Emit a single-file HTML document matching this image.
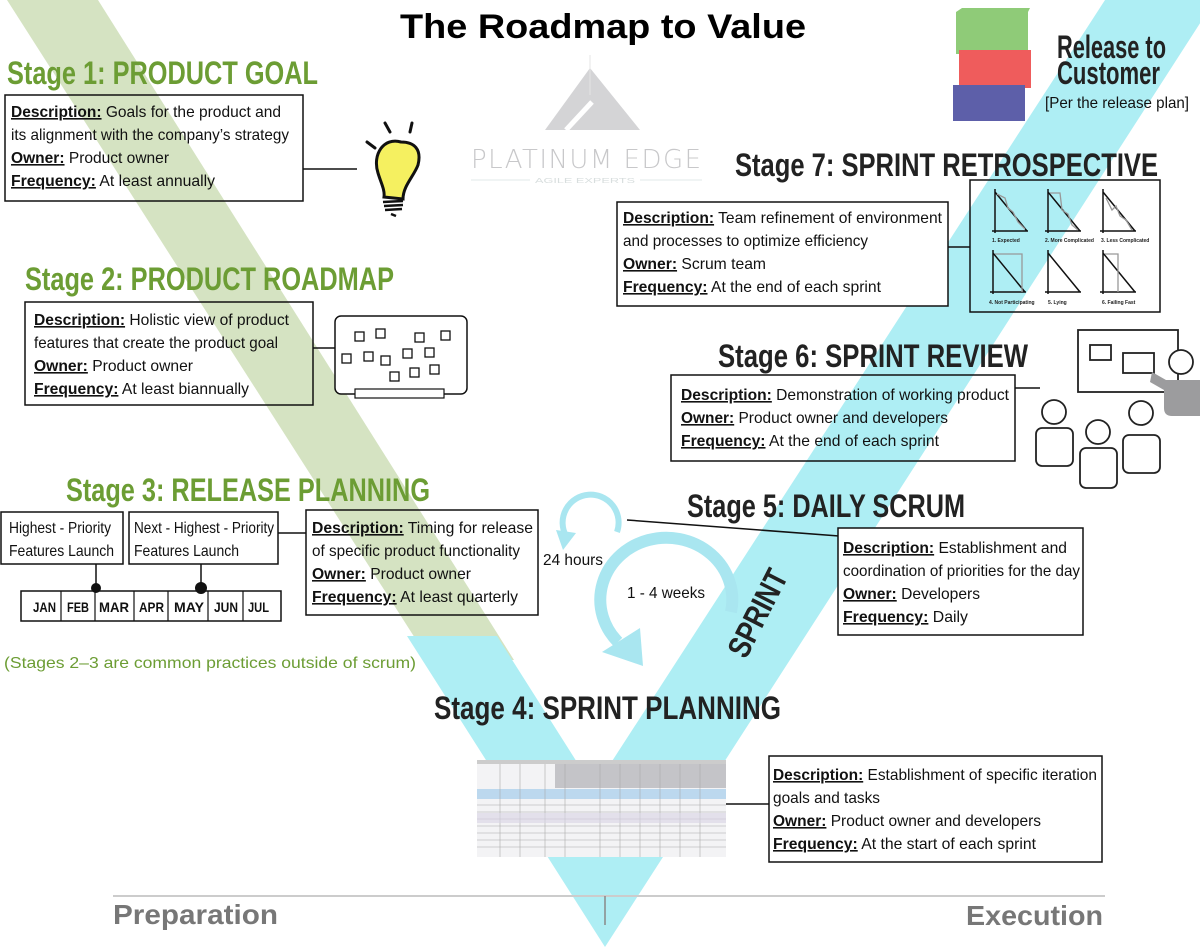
<!DOCTYPE html>
<html><head><meta charset="utf-8"><style>
html,body{margin:0;padding:0;background:#fff;}
svg{display:block;}
.b{font-family:"Liberation Sans",sans-serif;font-size:16px;fill:#111;}
.h{font-family:"Liberation Sans",sans-serif;font-weight:bold;font-size:32px;}
.u{font-weight:bold;text-decoration:underline;}
</style></head><body>
<svg width="1200" height="948" viewBox="0 0 1200 948" xmlns="http://www.w3.org/2000/svg">
<!-- V bands -->
<polygon points="7,0 98,0 514,660 429,660" fill="#d5e3c2"/>
<polygon points="407,636 497,636 594,789 1105,0 1215,0 605,947" fill="#aeeef4"/>

<!-- title -->
<text x="603" y="38" text-anchor="middle" font-family="Liberation Sans,sans-serif" font-weight="bold" font-size="34" textLength="406" lengthAdjust="spacingAndGlyphs" fill="#000">The Roadmap to Value</text>

<!-- logo -->
<polygon points="590,68 640,130 545,130" fill="#d4d4d6"/>
<line x1="566" y1="130" x2="592" y2="102" stroke="#fff" stroke-width="5"/>
<line x1="590" y1="55" x2="590" y2="95" stroke="#e4e4e4" stroke-width="1"/>
<text x="471" y="168" font-family="DejaVu Sans,sans-serif" font-weight="200" font-size="26" fill="#c8c8ca" textLength="230" lengthAdjust="spacing">PLATINUM EDGE</text>
<line x1="471" y1="180" x2="530" y2="180" stroke="#e2eaea"/><line x1="640" y1="180" x2="702" y2="180" stroke="#e2eaea"/>
<text x="535" y="183" font-family="Liberation Sans,sans-serif" font-size="7" fill="#d8dede" textLength="100" lengthAdjust="spacingAndGlyphs">AGILE EXPERTS</text>

<!-- Stage 1 -->
<text class="h" x="7" y="84" fill="#6c9d34" textLength="311" lengthAdjust="spacingAndGlyphs">Stage 1: PRODUCT GOAL</text>
<rect x="5" y="95" width="298" height="106" fill="none" stroke="#111" stroke-width="1.5"/>
<text class="b" x="11" y="117" textLength="270" lengthAdjust="spacingAndGlyphs"><tspan class="u">Description:</tspan> Goals for the product and</text>
<text class="b" x="11" y="140" textLength="278" lengthAdjust="spacingAndGlyphs">its alignment with the company’s strategy</text>
<text class="b" x="11" y="163" textLength="158" lengthAdjust="spacingAndGlyphs"><tspan class="u">Owner:</tspan> Product owner</text>
<text class="b" x="11" y="186" textLength="204" lengthAdjust="spacingAndGlyphs"><tspan class="u">Frequency:</tspan> At least annually</text>
<line x1="303" y1="169" x2="357" y2="169" stroke="#111" stroke-width="1.5"/>
<!-- bulb -->
<g stroke="#111" stroke-width="3" stroke-linecap="round">
<line x1="385" y1="123" x2="390" y2="132"/><line x1="412" y1="123" x2="410" y2="132"/><line x1="367" y1="142" x2="375" y2="148"/>
</g>
<path d="M401,142 C384,137 372,154 378,173 C381,183 385,190 384,197 L403,199 C403,186 414,176 418,165 C422,149 414,142 401,142 Z" fill="#f5f060" stroke="#111" stroke-width="3"/>
<g stroke="#111" stroke-width="2.5"><line x1="383" y1="202" x2="403" y2="201"/><line x1="384" y1="206" x2="403" y2="205"/><line x1="385" y1="210" x2="402" y2="209"/><line x1="391" y1="214" x2="396" y2="216"/></g>

<!-- Stage 2 -->
<text class="h" x="25" y="290" fill="#6c9d34" textLength="369" lengthAdjust="spacingAndGlyphs">Stage 2: PRODUCT ROADMAP</text>
<rect x="25" y="302" width="288" height="103" fill="none" stroke="#111" stroke-width="1.5"/>
<text class="b" x="34" y="325" textLength="255" lengthAdjust="spacingAndGlyphs"><tspan class="u">Description:</tspan> Holistic view of product</text>
<text class="b" x="34" y="348" textLength="244" lengthAdjust="spacingAndGlyphs">features that create the product goal</text>
<text class="b" x="34" y="371" textLength="159" lengthAdjust="spacingAndGlyphs"><tspan class="u">Owner:</tspan> Product owner</text>
<text class="b" x="34" y="394" textLength="215" lengthAdjust="spacingAndGlyphs"><tspan class="u">Frequency:</tspan> At least biannually</text>
<line x1="313" y1="348" x2="335" y2="348" stroke="#111" stroke-width="1.5"/>
<rect x="335" y="316" width="132" height="78" rx="6" fill="#fff" stroke="#111" stroke-width="1.5"/>
<rect x="355" y="389" width="89" height="9" fill="#fff" stroke="#111" stroke-width="1.2"/>
<g fill="none" stroke="#111" stroke-width="1.3">
<rect x="355" y="332" width="9" height="9"/><rect x="376" y="329" width="9" height="9"/><rect x="415" y="333" width="9" height="9"/><rect x="441" y="331" width="9" height="9"/>
<rect x="342" y="354" width="9" height="9"/><rect x="364" y="352" width="9" height="9"/><rect x="381" y="356" width="9" height="9"/><rect x="403" y="349" width="9" height="9"/><rect x="425" y="348" width="9" height="9"/>
<rect x="390" y="372" width="9" height="9"/><rect x="410" y="368" width="9" height="9"/><rect x="430" y="365" width="9" height="9"/>
</g>

<!-- Stage 3 -->
<text class="h" x="66" y="501" fill="#6c9d34" textLength="364" lengthAdjust="spacingAndGlyphs">Stage 3: RELEASE PLANNING</text>
<rect x="1" y="512" width="122" height="52" fill="#fff" stroke="#111" stroke-width="1.5"/>
<rect x="129" y="512" width="149" height="52" fill="#fff" stroke="#111" stroke-width="1.5"/>
<text class="b" x="9" y="533" textLength="102" lengthAdjust="spacingAndGlyphs">Highest - Priority</text>
<text class="b" x="9" y="556" textLength="105" lengthAdjust="spacingAndGlyphs">Features Launch</text>
<text class="b" x="134" y="533" textLength="140" lengthAdjust="spacingAndGlyphs">Next - Highest - Priority</text>
<text class="b" x="134" y="556" textLength="105" lengthAdjust="spacingAndGlyphs">Features Launch</text>
<line x1="96" y1="564" x2="96" y2="587" stroke="#111" stroke-width="1.5"/>
<line x1="201" y1="564" x2="201" y2="587" stroke="#111" stroke-width="1.5"/>
<rect x="21" y="591" width="260" height="30" fill="#fff" stroke="#111" stroke-width="1.5"/>
<g stroke="#111" stroke-width="1.2"><line x1="61" y1="591" x2="61" y2="621"/><line x1="95" y1="591" x2="95" y2="621"/><line x1="134" y1="591" x2="134" y2="621"/><line x1="168" y1="591" x2="168" y2="621"/><line x1="208" y1="591" x2="208" y2="621"/><line x1="243" y1="591" x2="243" y2="621"/></g>
<circle cx="96" cy="588" r="5" fill="#111"/><circle cx="201" cy="588" r="6" fill="#111"/>
<g font-family="Liberation Sans,sans-serif" font-weight="bold" font-size="14" fill="#111">
<text x="33" y="612" textLength="23" lengthAdjust="spacingAndGlyphs">JAN</text>
<text x="67" y="612" textLength="22" lengthAdjust="spacingAndGlyphs">FEB</text>
<text x="99" y="612" textLength="30" lengthAdjust="spacingAndGlyphs">MAR</text>
<text x="139" y="612" textLength="25" lengthAdjust="spacingAndGlyphs">APR</text>
<text x="174" y="612" textLength="30" lengthAdjust="spacingAndGlyphs">MAY</text>
<text x="214" y="612" textLength="24" lengthAdjust="spacingAndGlyphs">JUN</text>
<text x="248" y="612" textLength="21" lengthAdjust="spacingAndGlyphs">JUL</text>
</g>
<line x1="278" y1="533" x2="306" y2="533" stroke="#111" stroke-width="1.5"/>
<rect x="306" y="510" width="232" height="105" fill="none" stroke="#111" stroke-width="1.5"/>
<text class="b" x="312" y="533" textLength="221" lengthAdjust="spacingAndGlyphs"><tspan class="u">Description:</tspan> Timing for release</text>
<text class="b" x="312" y="556" textLength="208" lengthAdjust="spacingAndGlyphs">of specific product functionality</text>
<text class="b" x="312" y="579" textLength="159" lengthAdjust="spacingAndGlyphs"><tspan class="u">Owner:</tspan> Product owner</text>
<text class="b" x="312" y="602" textLength="206" lengthAdjust="spacingAndGlyphs"><tspan class="u">Frequency:</tspan> At least quarterly</text>
<text x="4" y="668" font-family="Liberation Sans,sans-serif" font-size="16" fill="#6c9d34" textLength="412" lengthAdjust="spacingAndGlyphs">(Stages 2–3 are common practices outside of scrum)</text>

<!-- cycles -->
<path d="M617,532 A28,28 0 1 0 566,536" fill="none" stroke="#a9e6f0" stroke-width="6"/>
<polygon points="556,530 576,533 563,550" fill="#a9e6f0"/>
<path d="M731,612 A66,62 0 1 0 618,642" fill="none" stroke="#a9e6f0" stroke-width="12"/>
<polygon points="602,652 640,628 643,666" fill="#a9e6f0"/>
<text class="b" x="543" y="565" textLength="60" lengthAdjust="spacingAndGlyphs">24 hours</text>
<text class="b" x="627" y="598" textLength="78" lengthAdjust="spacingAndGlyphs">1 - 4 weeks</text>
<line x1="627" y1="520" x2="839" y2="536" stroke="#111" stroke-width="1.5"/>
<text class="h" x="0" y="0" fill="#222" font-size="29" textLength="94" lengthAdjust="spacingAndGlyphs" transform="translate(746,660) rotate(-63)">SPRINT</text>

<!-- Stage 5 -->
<text class="h" x="687" y="517" fill="#222" textLength="278" lengthAdjust="spacingAndGlyphs">Stage 5: DAILY SCRUM</text>
<rect x="838" y="528" width="245" height="107" fill="#fff" stroke="#111" stroke-width="1.5"/>
<text class="b" x="843" y="553" textLength="224" lengthAdjust="spacingAndGlyphs"><tspan class="u">Description:</tspan> Establishment and</text>
<text class="b" x="843" y="576" textLength="237" lengthAdjust="spacingAndGlyphs">coordination of priorities for the day</text>
<text class="b" x="843" y="599" textLength="137" lengthAdjust="spacingAndGlyphs"><tspan class="u">Owner:</tspan> Developers</text>
<text class="b" x="843" y="622" textLength="125" lengthAdjust="spacingAndGlyphs"><tspan class="u">Frequency:</tspan> Daily</text>

<!-- Stage 4 -->
<text class="h" x="434" y="719" fill="#222" textLength="347" lengthAdjust="spacingAndGlyphs">Stage 4: SPRINT PLANNING</text>
<g>
<rect x="477" y="760" width="249" height="97" fill="#f3f3f5"/>
<rect x="477" y="760" width="249" height="4" fill="#ccc"/>
<rect x="555" y="764" width="171" height="24" fill="#c4c4c8"/>
<rect x="477" y="789" width="249" height="10" fill="#bcd8ee"/>
<g stroke="#aaa" stroke-width="0.6">
<line x1="477" y1="805" x2="726" y2="805"/><line x1="477" y1="812" x2="726" y2="812"/><line x1="477" y1="819" x2="726" y2="819"/><line x1="477" y1="826" x2="726" y2="826"/><line x1="477" y1="833" x2="726" y2="833"/><line x1="477" y1="840" x2="726" y2="840"/><line x1="477" y1="847" x2="726" y2="847"/>
<line x1="500" y1="764" x2="500" y2="857"/><line x1="520" y1="764" x2="520" y2="857"/><line x1="545" y1="764" x2="545" y2="857"/><line x1="565" y1="764" x2="565" y2="857"/><line x1="600" y1="764" x2="600" y2="857"/><line x1="620" y1="764" x2="620" y2="857"/><line x1="640" y1="764" x2="640" y2="857"/><line x1="660" y1="764" x2="660" y2="857"/><line x1="680" y1="764" x2="680" y2="857"/><line x1="700" y1="764" x2="700" y2="857"/>
</g>
<rect x="477" y="813" width="249" height="10" fill="#d8d4e4" opacity="0.6"/>
</g>
<line x1="726" y1="804" x2="769" y2="804" stroke="#111" stroke-width="1.5"/>
<rect x="769" y="756" width="333" height="106" fill="#fff" stroke="#111" stroke-width="1.5"/>
<text class="b" x="773" y="780" textLength="324" lengthAdjust="spacingAndGlyphs"><tspan class="u">Description:</tspan> Establishment of specific iteration</text>
<text class="b" x="773" y="803" textLength="107" lengthAdjust="spacingAndGlyphs">goals and tasks</text>
<text class="b" x="773" y="826" textLength="268" lengthAdjust="spacingAndGlyphs"><tspan class="u">Owner:</tspan> Product owner and developers</text>
<text class="b" x="773" y="849" textLength="263" lengthAdjust="spacingAndGlyphs"><tspan class="u">Frequency:</tspan> At the start of each sprint</text>

<!-- bottom -->
<line x1="113" y1="896" x2="1105" y2="896" stroke="#ccc" stroke-width="2"/>
<line x1="605" y1="896" x2="605" y2="925" stroke="#888" stroke-width="1.5"/>
<text x="113" y="924" font-family="Liberation Sans,sans-serif" font-weight="bold" font-size="28" fill="#777" textLength="165" lengthAdjust="spacingAndGlyphs">Preparation</text>
<text x="966" y="925" font-family="Liberation Sans,sans-serif" font-weight="bold" font-size="28" fill="#777" textLength="137" lengthAdjust="spacingAndGlyphs">Execution</text>

<!-- Stage 6 -->
<text class="h" x="718" y="367" fill="#222" textLength="310" lengthAdjust="spacingAndGlyphs">Stage 6: SPRINT REVIEW</text>
<rect x="671" y="375" width="344" height="86" fill="none" stroke="#111" stroke-width="1.5"/>
<text class="b" x="681" y="400" textLength="328" lengthAdjust="spacingAndGlyphs"><tspan class="u">Description:</tspan> Demonstration of working product</text>
<text class="b" x="681" y="423" textLength="267" lengthAdjust="spacingAndGlyphs"><tspan class="u">Owner:</tspan> Product owner and developers</text>
<text class="b" x="681" y="446" textLength="258" lengthAdjust="spacingAndGlyphs"><tspan class="u">Frequency:</tspan> At the end of each sprint</text>
<line x1="1015" y1="388" x2="1040" y2="388" stroke="#111" stroke-width="1.5"/>
<g fill="#fff" stroke="#222" stroke-width="1.8">
<rect x="1078" y="330" width="100" height="62"/>
<rect x="1090" y="345" width="21" height="15"/>
<rect x="1123" y="353" width="31" height="20"/>
<circle cx="1181" cy="362" r="12"/>
</g>
<path d="M1152,372 L1166,380 L1200,380 L1200,416 L1172,416 Q1164,416 1164,408 L1164,390 L1150,382 Z" fill="#9c9c9e"/>
<g fill="#fff" stroke="#222" stroke-width="1.8">
<circle cx="1054" cy="412" r="12"/><rect x="1036" y="428" width="37" height="38" rx="6"/>
<circle cx="1098" cy="432" r="12"/><rect x="1080" y="448" width="37" height="40" rx="6"/>
<circle cx="1141" cy="413" r="12"/><rect x="1123" y="435" width="37" height="38" rx="6"/>
</g>

<!-- Stage 7 -->
<text class="h" x="735" y="176" fill="#222" textLength="423" lengthAdjust="spacingAndGlyphs">Stage 7: SPRINT RETROSPECTIVE</text>
<rect x="617" y="202" width="331" height="104" fill="#fff" stroke="#111" stroke-width="1.5"/>
<text class="b" x="623" y="223" textLength="319" lengthAdjust="spacingAndGlyphs"><tspan class="u">Description:</tspan> Team refinement of environment</text>
<text class="b" x="623" y="246" textLength="245" lengthAdjust="spacingAndGlyphs">and processes to optimize efficiency</text>
<text class="b" x="623" y="269" textLength="143" lengthAdjust="spacingAndGlyphs"><tspan class="u">Owner:</tspan> Scrum team</text>
<text class="b" x="623" y="292" textLength="258" lengthAdjust="spacingAndGlyphs"><tspan class="u">Frequency:</tspan> At the end of each sprint</text>
<line x1="948" y1="247" x2="970" y2="247" stroke="#111" stroke-width="1.5"/>
<rect x="970" y="180" width="190" height="132" fill="none" stroke="#111" stroke-width="1.5"/>
<g stroke="#111" stroke-width="1.5" fill="none">
<path d="M995,189 V233 M992,231 H1028 M995,192 L1027,231"/>
<path d="M1048,189 V233 M1045,231 H1081 M1048,192 L1080,231"/>
<path d="M1103,189 V233 M1100,231 H1136 M1103,192 L1135,231"/>
<path d="M993,250 V294 M990,292 H1026 M993,253 L1025,292"/>
<path d="M1048,250 V294 M1045,292 H1081 M1048,253 L1080,292"/>
<path d="M1103,250 V294 M1100,292 H1136 M1103,253 L1135,292"/>
</g>
<g stroke="#999" stroke-width="1.3" fill="none">
<path d="M997,194 L1005,198 L1008,208 L1013,212 L1018,222 L1025,229"/>
<path d="M1050,193 L1060,193 L1062,210 L1068,214 L1072,225 L1078,230"/>
<path d="M1106,198 L1112,210 L1116,206 L1120,216 L1126,220 L1132,230"/>
<path d="M995,254 H1022 V292"/>
<path d="M1105,254 H1118 V292"/>
</g>
<g font-family="Liberation Sans,sans-serif" font-size="5" font-weight="bold" fill="#222">
<text x="992" y="242">1. Expected</text><text x="1045" y="242">2. More Complicated</text><text x="1101" y="242">3. Less Complicated</text>
<text x="989" y="304">4. Not Participating</text><text x="1048" y="304">5. Lying</text><text x="1102" y="304">6. Failing Fast</text>
</g>

<!-- Release -->
<rect x="956" y="12" width="72" height="42" fill="#8fcb78"/>
<polygon points="956,12 962,8 1030,8 1028,12" fill="#8fcb78"/>
<rect x="959" y="50" width="72" height="38" fill="#ef5c5c"/>
<rect x="953" y="85" width="72" height="36" fill="#5d5fa9"/>
<text class="h" x="1057" y="58" fill="#222" font-size="27" textLength="109" lengthAdjust="spacingAndGlyphs">Release to</text>
<text class="h" x="1057" y="84" fill="#222" font-size="27" textLength="103" lengthAdjust="spacingAndGlyphs">Customer</text>
<text class="b" x="1045" y="108" textLength="144" lengthAdjust="spacingAndGlyphs">[Per the release plan]</text>
</svg>
</body></html>
